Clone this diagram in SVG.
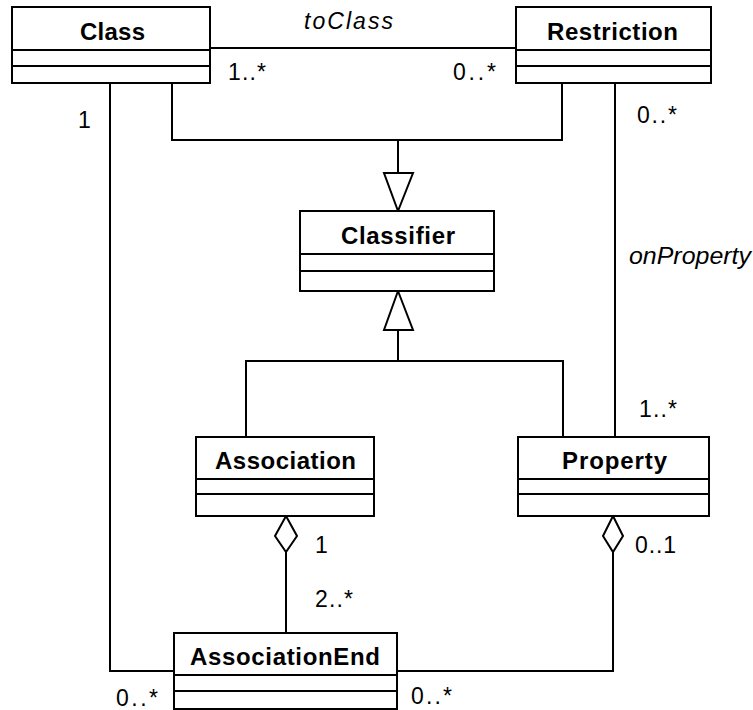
<svg xmlns="http://www.w3.org/2000/svg" width="753" height="710" viewBox="0 0 753 710">
<style>
.box{fill:#fff;stroke:#000;stroke-width:2}
.div{stroke:#000;stroke-width:2}
.name{font-family:"Liberation Sans",Arial,sans-serif;font-weight:bold;font-size:24px;fill:#000}
.lbl{font-family:"Liberation Sans",Arial,sans-serif;font-size:23px;fill:#000}
.it{font-style:italic}
.con{fill:none;stroke:#000;stroke-width:2}
.head{fill:#fff;stroke:#000;stroke-width:2}
</style>
<rect width="753" height="710" fill="#fff"/>
<g id="connectors">
  <line class="con" x1="210" y1="48" x2="516" y2="48"/>
  <polyline class="con" points="172,83 172,140 562,140 562,83"/>
  <line class="con" x1="398" y1="140" x2="398" y2="173"/>
  <polygon class="head" points="384,173 413,173 398,211"/>
  <polygon class="head" points="398,291 413,330 384,330"/>
  <line class="con" x1="398" y1="330" x2="398" y2="361"/>
  <polyline class="con" points="246,437 246,361 563,361 563,437"/>
  <line class="con" x1="615" y1="83" x2="615" y2="437"/>
  <polyline class="con" points="110,83 110,671 174,671"/>
  <polygon class="head" points="286,516 297,536 286,552 275,536"/>
  <line class="con" x1="286" y1="552" x2="286" y2="633"/>
  <polygon class="head" points="613,516 623,536 613,552 603,536"/>
  <polyline class="con" points="613,552 613,671 397,671"/>
  <text class="lbl it" x="304" y="29" textLength="89" lengthAdjust="spacing">toClass</text>
  <text class="lbl" x="228" y="80" textLength="38" lengthAdjust="spacing">1..*</text>
  <text class="lbl" x="453" y="80" textLength="43" lengthAdjust="spacing">0..*</text>
  <text class="lbl" x="78" y="128">1</text>
  <text class="lbl" x="637" y="123" textLength="40" lengthAdjust="spacing">0..*</text>
  <text class="lbl it" x="629" y="264" textLength="122" lengthAdjust="spacingAndGlyphs">onProperty</text>
  <text class="lbl" x="639" y="417" textLength="38" lengthAdjust="spacing">1..*</text>
  <text class="lbl" x="315" y="553">1</text>
  <text class="lbl" x="635" y="553" textLength="41" lengthAdjust="spacing">0..1</text>
  <text class="lbl" x="315" y="607" textLength="38" lengthAdjust="spacing">2..*</text>
  <text class="lbl" x="116" y="706" textLength="42" lengthAdjust="spacing">0..*</text>
  <text class="lbl" x="411" y="704" textLength="41" lengthAdjust="spacing">0..*</text>
</g>
<g id="Class">
  <rect class="box" x="12" y="7" width="198" height="76"/>
  <line class="div" x1="12" y1="50" x2="210" y2="50"/>
  <line class="div" x1="12" y1="66" x2="210" y2="66"/>
  <text class="name" x="80" y="40" textLength="65" lengthAdjust="spacing">Class</text>
</g>
<g id="Restriction">
  <rect class="box" x="516" y="7" width="195" height="76"/>
  <line class="div" x1="516" y1="50" x2="711" y2="50"/>
  <line class="div" x1="516" y1="66" x2="711" y2="66"/>
  <text class="name" x="547" y="40" textLength="131" lengthAdjust="spacing">Restriction</text>
</g>
<g id="Classifier">
  <rect class="box" x="300" y="211" width="194" height="80"/>
  <line class="div" x1="300" y1="254" x2="494" y2="254"/>
  <line class="div" x1="300" y1="271" x2="494" y2="271"/>
  <text class="name" x="341" y="244" textLength="114" lengthAdjust="spacing">Classifier</text>
</g>
<g id="Association">
  <rect class="box" x="196" y="437" width="178" height="79"/>
  <line class="div" x1="196" y1="479" x2="374" y2="479"/>
  <line class="div" x1="196" y1="494" x2="374" y2="494"/>
  <text class="name" x="215" y="469" textLength="141" lengthAdjust="spacing">Association</text>
</g>
<g id="Property">
  <rect class="box" x="518" y="437" width="191" height="79"/>
  <line class="div" x1="518" y1="479" x2="709" y2="479"/>
  <line class="div" x1="518" y1="494" x2="709" y2="494"/>
  <text class="name" x="562" y="469" textLength="105" lengthAdjust="spacing">Property</text>
</g>
<g id="AssociationEnd">
  <rect class="box" x="174" y="633" width="223" height="76"/>
  <line class="div" x1="174" y1="675" x2="397" y2="675"/>
  <line class="div" x1="174" y1="691" x2="397" y2="691"/>
  <text class="name" x="190" y="665" textLength="190" lengthAdjust="spacing">AssociationEnd</text>
</g>
</svg>
